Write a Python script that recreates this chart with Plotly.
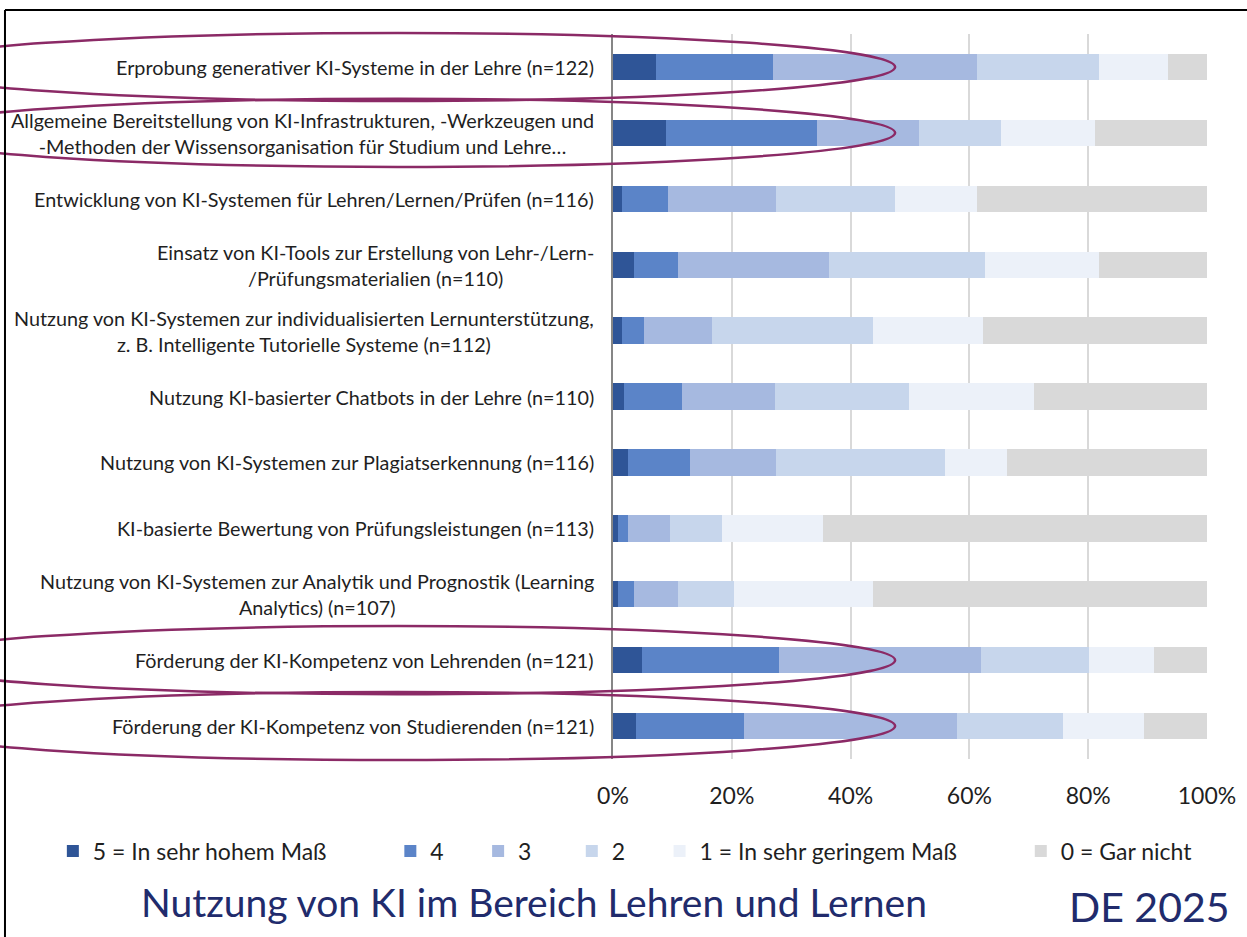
import plotly.graph_objects as go

categories = [
    "Erprobung generativer KI-Systeme in der Lehre (n=122)",
    "Allgemeine Bereitstellung von KI-Infrastrukturen, -Werkzeugen und<br>-Methoden der Wissensorganisation für Studium und Lehre…",
    "Entwicklung von KI-Systemen für Lehren/Lernen/Prüfen (n=116)",
    "Einsatz von KI-Tools zur Erstellung von Lehr-/Lern-<br>/Prüfungsmaterialien (n=110)",
    "Nutzung von KI-Systemen zur individualisierten Lernunterstützung,<br>z. B. Intelligente Tutorielle Systeme (n=112)",
    "Nutzung KI-basierter Chatbots in der Lehre (n=110)",
    "Nutzung von KI-Systemen zur Plagiatserkennung (n=116)",
    "KI-basierte Bewertung von Prüfungsleistungen (n=113)",
    "Nutzung von KI-Systemen zur Analytik und Prognostik (Learning<br>Analytics) (n=107)",
    "Förderung der KI-Kompetenz von Lehrenden (n=121)",
    "Förderung der KI-Kompetenz von Studierenden (n=121)",
]

series_names = [
    "5 = In sehr hohem Maß",
    "4",
    "3",
    "2",
    "1 = In sehr geringem Maß",
    "0 = Gar nicht",
]

v5 = [7.3, 9.0, 1.5, 3.5, 1.5, 1.9, 2.5, 0.9, 0.9, 4.9, 3.9]
v4 = [19.6, 25.3, 7.8, 7.5, 3.7, 9.7, 10.5, 1.6, 2.6, 23.0, 18.2]
v3 = [34.4, 17.2, 18.2, 25.3, 11.5, 15.6, 14.5, 7.1, 7.5, 34.1, 35.8]
v2 = [20.6, 13.9, 20.0, 26.4, 27.1, 22.6, 28.4, 8.8, 9.4, 18.2, 17.9]
v1 = [11.5, 15.8, 13.8, 19.2, 18.5, 21.0, 10.5, 16.9, 23.4, 10.8, 13.6]
v0 = [6.6, 18.8, 38.7, 18.1, 37.7, 29.2, 33.6, 64.7, 56.2, 9.0, 10.6]

tick_vals = [0, 20, 40, 60, 80, 100]
tick_text = ["0%", "20%", "40%", "60%", "80%", "100%"]

highlighted = [0, 1, 9, 10]  # rows circled in the original

colors = ["#2F5597", "#5B84C8", "#A6B9E0", "#C7D6EC", "#ECF1F9", "#D9D9D9"]
FONT = "Lato"
TEXT = "#1F1F1F"
NAVY = "#212B6C"
MARK = "#8B2A66"
PADS = [10, 5, 6, 5, 10, 0]  # extra spacing (nbsp) after each legend entry

fig = go.Figure()
for k, (name, vals, col) in enumerate(zip(series_names, [v5, v4, v3, v2, v1, v0], colors)):
    label = name + "\u00a0" * PADS[k]
    fig.add_trace(go.Bar(
        y=categories, x=vals, name=label, orientation="h",
        marker=dict(color=col, line=dict(width=0)),
        hovertemplate="%{x:.1f}%<extra>" + name + "</extra>",
    ))

# category labels (centered multi-line blocks, right-aligned to the axis)
annotations = []
for c in categories:
    annotations.append(dict(
        x=0, xref="paper", y=c, yref="y", xanchor="right", yanchor="middle",
        xshift=-17, text=c, showarrow=False, align="center",
        font=dict(family=FONT, size=19.8, color=TEXT),
    ))
annotations.append(dict(
    x=-0.133, xref="paper", y=-0.197, yref="paper", xanchor="center", yanchor="middle",
    text="Nutzung von KI im Bereich Lehren und Lernen", showarrow=False,
    font=dict(family=FONT, size=39, color=NAVY),
))
annotations.append(dict(
    x=1.0404, xref="paper", y=-0.204, yref="paper", xanchor="right", yanchor="middle",
    text="DE 2025", showarrow=False,
    font=dict(family=FONT, size=41, color=NAVY),
))

n = len(categories)
shapes = []
for i in highlighted:
    yc = 1 - (i + 0.5) / n
    shapes.append(dict(
        type="circle", xref="paper", yref="paper",
        x0=-1.2, x1=0.475, y0=yc - 0.047, y1=yc + 0.047,
        line=dict(color=MARK, width=2.5), layer="above",
    ))
# outer frame (top and left edges)
shapes.append(dict(type="line", xref="paper", yref="paper", x0=-1.0236, x1=1.1,
                   y0=1.0331, y1=1.0331, line=dict(color="black", width=2)))
shapes.append(dict(type="line", xref="paper", yref="paper", x0=-1.0236, x1=-1.0236,
                   y0=1.0331, y1=-0.3, line=dict(color="black", width=2)))

fig.update_layout(
    width=1247, height=937,
    barmode="stack", bargap=0.6,
    paper_bgcolor="white", plot_bgcolor="white",
    margin=dict(l=613, r=40, t=34, b=178),
    font=dict(family=FONT, color=TEXT),
    xaxis=dict(
        range=[0, 100], tickvals=tick_vals, ticktext=tick_text,
        showgrid=True, gridcolor="#D9D9D9", gridwidth=1.8,
        zeroline=False, showline=False, ticks="",
        tickfont=dict(family=FONT, size=23, color=TEXT),
        ticklabelstandoff=21, fixedrange=True,
    ),
    yaxis=dict(
        autorange="reversed", showticklabels=False, ticks="",
        showline=True, linecolor="#868686", linewidth=2,
        showgrid=False, zeroline=False, fixedrange=True,
    ),
    legend=dict(
        orientation="h", x=-0.943, xanchor="left", y=-0.127, yanchor="middle",
        font=dict(family=FONT, size=23, color=TEXT),
        itemwidth=30, traceorder="normal", bgcolor="rgba(0,0,0,0)",
    ),
    annotations=annotations,
    shapes=shapes,
    showlegend=True,
)

fig.write_html("out.html", config={"displayModeBar": False},
               post_script="document.body.style.margin='0';")
